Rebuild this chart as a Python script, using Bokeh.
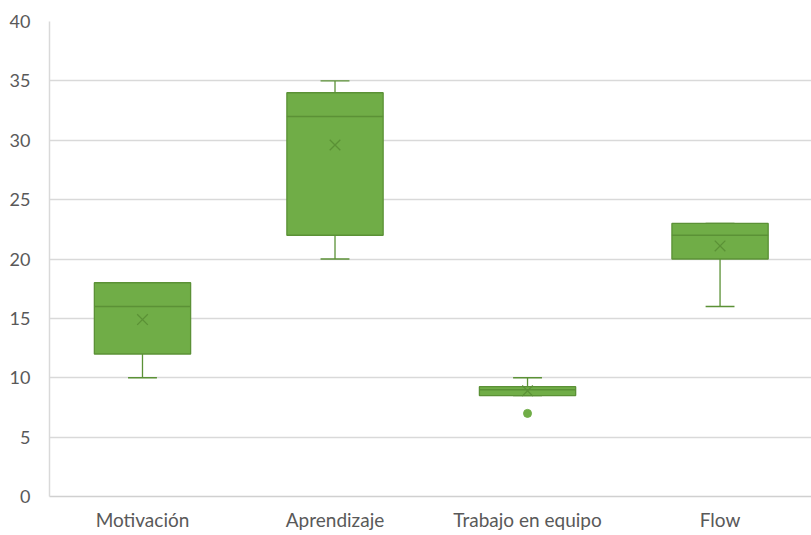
from bokeh.plotting import figure
from bokeh.models import ColumnDataSource, FixedTicker, Range1d
from bokeh.embed import file_html
from bokeh.resources import INLINE

# Box-plot summary per category
categories = ["Motivación", "Aprendizaje", "Trabajo en equipo", "Flow"]
whisker_low = [10, 20, 8.5, 16]
q1 = [12, 22, 8.5, 20]
median = [16, 32, 9, 22]
q3 = [18, 34, 9.25, 23]
whisker_high = [18, 35, 10, 23]
mean = [14.9, 29.6, 8.9, 21.1]
outlier_cat = [3]
outlier_val = [7]

y_ticks = [0, 5, 10, 15, 20, 25, 30, 35, 40]

FILL = "#70ad47"
EDGE = "#5b9136"
TEXT = "#595959"
FONT = "Lato"

xs = list(range(1, len(categories) + 1))
src = ColumnDataSource(dict(
    x=xs, lo=whisker_low, q1=q1, med=median, q3=q3, hi=whisker_high, mean=mean,
))

p = figure(width=811, height=535, output_backend="svg", toolbar_location=None,
           x_range=Range1d(0.517, 4.475), y_range=Range1d(0, 40),
           min_border_left=49, min_border_right=0, min_border_top=21,
           min_border_bottom=39)
p.outline_line_color = None
p.background_fill_color = "white"
p.border_fill_color = "white"

# whiskers
p.segment(x0="x", y0="lo", x1="x", y1="q1", source=src, line_color=EDGE, line_width=1.3)
p.segment(x0="x", y0="q3", x1="x", y1="hi", source=src, line_color=EDGE, line_width=1.3)
cap = 0.075
p.segment(x0=[x - cap for x in xs], y0=whisker_low, x1=[x + cap for x in xs], y1=whisker_low,
          line_color=EDGE, line_width=1.3)
p.segment(x0=[x - cap for x in xs], y0=whisker_high, x1=[x + cap for x in xs], y1=whisker_high,
          line_color=EDGE, line_width=1.3)

# boxes
p.vbar(x="x", width=0.5, bottom="q1", top="q3", source=src,
       fill_color=FILL, line_color=EDGE, line_width=1.3)
# medians
p.segment(x0=[x - 0.25 for x in xs], y0=median, x1=[x + 0.25 for x in xs], y1=median,
          line_color=EDGE, line_width=1.5)
# means
p.scatter(x="x", y="mean", source=src, marker="x", size=15,
          line_color=EDGE, line_width=1.3)
# outliers
p.scatter(x=outlier_cat, y=outlier_val, marker="circle", size=8,
          fill_color=FILL, line_color=FILL)

# axes
p.xaxis.ticker = FixedTicker(ticks=xs)
p.xaxis.major_label_overrides = {x: c for x, c in zip(xs, categories)}
p.yaxis.ticker = FixedTicker(ticks=y_ticks)
for ax in (p.xaxis[0], p.yaxis[0]):
    ax.major_tick_line_color = None
    ax.minor_tick_line_color = None
    ax.major_label_text_font = FONT
    ax.major_label_text_color = TEXT
p.xaxis.major_label_text_font_size = "19px"
p.yaxis.major_label_text_font_size = "18px"
p.xaxis.axis_line_color = "#d0d0d0"
p.xaxis.axis_line_width = 1.5
p.yaxis.axis_line_color = "#d9d9d9"
p.yaxis.axis_line_width = 1.5
p.xaxis.major_label_standoff = 5
p.yaxis.major_label_standoff = 13

p.xgrid.grid_line_color = None
p.ygrid.grid_line_color = "#d9d9d9"
p.ygrid.grid_line_width = 1.3

open("out.html", "w").write(file_html(p, INLINE))
